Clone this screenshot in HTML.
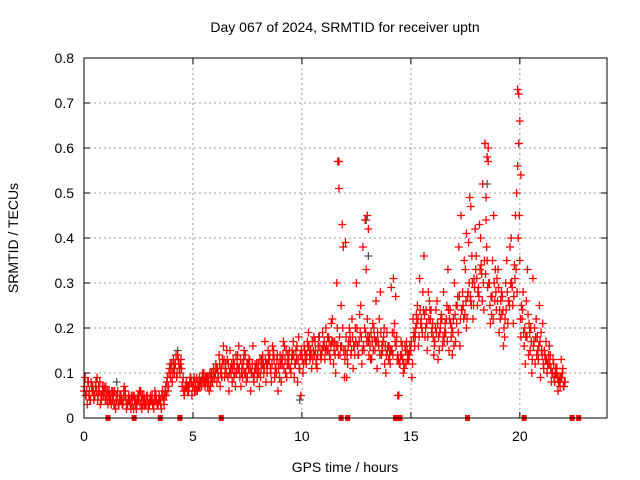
<!DOCTYPE html>
<html><head><meta charset="utf-8"><style>
html,body{margin:0;padding:0;background:#fff}
svg{display:block;font-family:"Liberation Sans",sans-serif}
</style></head><body>
<svg id="chart" width="640" height="480" viewBox="0 0 640 480">
<text x="345" y="32" font-size="14" text-anchor="middle">Day 067 of 2024, SRMTID for receiver uptn</text>
<text x="345" y="472" font-size="14" text-anchor="middle">GPS time / hours</text>
<text x="18" y="238" font-size="14" text-anchor="middle" transform="rotate(-90 18 238)">SRMTID / TECUs</text>
<g id="grid"></g>
<g id="ticks"></g>
<g id="marks"></g>
<rect x="84" y="58" width="523" height="360" fill="none" stroke="#000" stroke-width="1"/>
</svg>
<script>
const xTicks=[0,5,10,15,20];
const yTicks=[0,0.1,0.2,0.3,0.4,0.5,0.6,0.7,0.8];
const yTickLabels=["0","0.1","0.2","0.3","0.4","0.5","0.6","0.7","0.8"];
const times=[];
for(let i=0;i<=220;i++)times.push(+(i*0.1).toFixed(1));
times.push(22.8);
const valsA=[6,5,8,4,7,5,9,6,4,5,7,3,5,4,6,4,3,5,4,6,3,
4,3,5,2,4,6,3,4,5,3,4,2,5,3,4,6,5,8,10,
11,13,12,14,10,7,5,8,6,9,7,8,6,9,7,10,8,9,7,8,
9,8,14,11,16,12,9,15,8,12,10,16,7,11,14,9,13,10,8,11,
12,9,14,17,10,13,8,15,11,6,14,12,16,9,13,10,17,12,8,11,
14,16,12,19,15,13,17,11,18,14,16,20,15,13,22,17,30,57,25,38,
15,12,19,22,16,30,14,25,38,44,22,18,13,20,26,17,28,15,12,19,
16,29,31,27,14,12,16,11,17,13,15,22,18,25,31,20,36,24,28,22,
21,17,26,15,23,28,19,33,24,14,30,21,38,45,25,33,27,49,36,31,
36,29,40,52,61,35,30,23,45,28,33,22,27,18,35,26,40,21,45,73,
35,22,16,26,14,20,31,12,18,25,15,11,17,12,14,10,8,11,9,13,7];
const valsB=[9,3,6,7,4,8,5,3,7,6,4,6,3,5,2,6,5,3,7,2,5,
2,5,3,4,6,2,5,3,2,5,3,6,3,5,2,4,7,6,12,
8,10,9,12,13,9,7,6,8,5,9,6,7,8,10,7,9,6,10,11,
12,10,7,13,9,15,6,10,13,7,14,9,12,15,8,11,6,16,12,9,
7,13,10,8,15,11,16,9,13,12,8,17,10,14,11,15,9,13,18,5,
10,13,17,14,11,18,12,16,14,19,13,15,17,21,12,10,16,14,43,9,
9,17,14,11,20,16,23,12,15,33,17,13,21,15,11,22,14,18,10,16,
12,19,21,18,5,17,10,15,13,16,9,19,23,16,21,28,18,15,26,19,
14,24,13,20,16,19,25,15,18,22,17,27,16,24,35,20,39,26,22,42,
25,43,32,24,44,57,21,35,26,31,19,28,16,30,21,38,29,34,50,61,
18,28,12,33,19,10,17,22,13,9,21,14,10,16,8,12,11,6,7,10,8];
const valsC=[7,6,5,8,6,7,4,8,5,7,5,5,4,6,3,5,4,4,6,4,4,
3,4,4,3,5,4,4,3,4,4,5,4,4,4,3,5,6,9,11,
12,11,14,13,12,8,6,7,7,8,8,7,8,7,9,8,9,8,9,10,
10,11,12,9,13,10,12,11,11,10,12,11,10,13,10,12,11,12,10,12,
10,11,12,13,12,14,12,13,10,11,12,14,13,12,15,13,14,15,13,14,
13,15,14,16,14,15,15,14,16,15,17,16,18,16,17,14,20,18,16,15,
18,16,17,18,14,20,17,18,16,19,18,16,17,18,17,16,19,17,16,15,
14,15,19,16,13,14,13,16,15,14,17,18,20,22,24,19,23,21,22,24,
18,20,21,19,22,17,22,24,21,19,23,25,27,24,22,26,28,27,30,29,
31,27,34,30,32,29,25,27,30,24,29,26,24,22,28,25,30,27,33,40,
22,24,20,18,21,17,16,18,15,17,14,15,13,14,11,13,10,9,8,9,7];
const valsD=[5,8,4,6,5,6,7,5,6,4,6,4,6,3,5,3,4,3,5,3,4,
5,2,4,5,3,5,3,5,3,4,3,4,3,4,5,3,5,7,9,
10,12,10,11,11,6,7,7,9,7,6,9,7,8,8,9,7,10,8,9,
11,9,10,12,11,13,10,12,9,14,11,13,9,10,12,13,10,9,11,10,
13,12,11,12,13,10,14,11,14,9,13,11,15,12,11,14,12,16,11,15,
12,14,16,13,17,14,13,18,13,16,15,18,14,17,15,16,14,16,20,13,
14,20,15,16,17,14,19,15,20,17,14,19,15,17,19,14,16,20,14,13,
15,14,17,13,12,14,12,12,14,15,12,16,21,18,22,24,20,18,24,20,
16,19,18,22,18,21,17,22,20,16,25,19,22,28,23,22,30,25,25,33,
28,33,26,35,38,30,27,22,33,26,24,23,20,24,26,30,25,31,28,45,
25,19,18,23,15,13,20,14,16,19,12,13,12,12,10,9,10,8,9,11,8];
const spikeTimes=[11.7,12.0,13.05,17.75,18.5,18.55,19.95,20.0,19.9,14.4,18.45,17.55,11.65,13.0,20.05];
const spikeVals=[0.51,0.39,0.42,0.47,0.58,0.6,0.72,0.66,0.56,0.05,0.49,0.41,0.57,0.45,0.54];
const grayTimes=[11.65,12.95,18.4,19.95,9.9,1.5,18.5,13.05,4.3];
const grayVals=[0.57,0.44,0.61,0.61,0.04,0.08,0.52,0.36,0.15];
const gapTimes=[1.1,2.3,3.5,4.4,6.3,11.8,12.1,14.3,14.5,17.6,20.2,22.4,22.7];

const NS="http://www.w3.org/2000/svg";
const X0=84,X1=607,Y0=418,Y1=58,XMAX=24,YMAX=0.8;
function sx(t){return X0+(t/XMAX)*(X1-X0);}
function sy(v){return Y0-(v/YMAX)*(Y0-Y1);}
function mk(tag,attrs,parent){const e=document.createElementNS(NS,tag);for(const k in attrs)e.setAttribute(k,attrs[k]);parent.appendChild(e);return e;}
const grid=document.getElementById('grid'),ticks=document.getElementById('ticks'),marks=document.getElementById('marks');
yTicks.forEach((v,i)=>{
  const y=sy(v);
  if(i>0&&i<yTicks.length-1){const g=mk('line',{x1:X0,x2:X1,y1:y,y2:y,stroke:'#999','stroke-dasharray':'2,3'},grid);
  
  }
  mk('line',{x1:X0,x2:X0+6,y1:y,y2:y,stroke:'#000'},ticks);
  mk('line',{x1:X1-6,x2:X1,y1:y,y2:y,stroke:'#000'},ticks);
  const t=mk('text',{x:X0-10,y:y+5,'font-size':14,'text-anchor':'end'},ticks);t.textContent=yTickLabels[i];
  
  
});
xTicks.forEach(v=>{
  const x=sx(v);
  if(v>0){const g=mk('line',{x1:x,x2:x,y1:Y1,y2:Y0,stroke:'#999','stroke-dasharray':'2,3'},grid);
  
  }
  mk('line',{x1:x,x2:x,y1:Y0,y2:Y0-6,stroke:'#000'},ticks);
  mk('line',{x1:x,x2:x,y1:Y1,y2:Y1+6,stroke:'#000'},ticks);
  const t=mk('text',{x:x,y:Y0+23,'font-size':14,'text-anchor':'middle'},ticks);t.textContent=String(v);
  
  
});
function plus(t,v,color,name){
  const x=sx(t),y=sy(v);
  const p=mk('path',{d:`M${x-4} ${y}H${x+4}M${x} ${y-4}V${y+4}`,stroke:color,'stroke-width':1.3,fill:'none'},marks);
  
  
}
grayTimes.forEach((t,i)=>plus(t,grayVals[i],'#555','gray-point'));
times.forEach((t,i)=>{
  plus(t,valsA[i]/100,'#f00','red-point');
  plus(t+0.025,valsC[i]/100,'#f00','red-point');
  plus(t+0.05,valsB[i]/100,'#f00','red-point');
  plus(t+0.075,valsD[i]/100,'#f00','red-point');
});
spikeTimes.forEach((t,i)=>plus(t,spikeVals[i],'#f00','spike-point'));
gapTimes.forEach(t=>{
  const r=mk('rect',{x:sx(t)-2.5,y:Y0-3,width:5,height:6,fill:'#f00'},marks);
  
  
});
</script>
</body></html>
